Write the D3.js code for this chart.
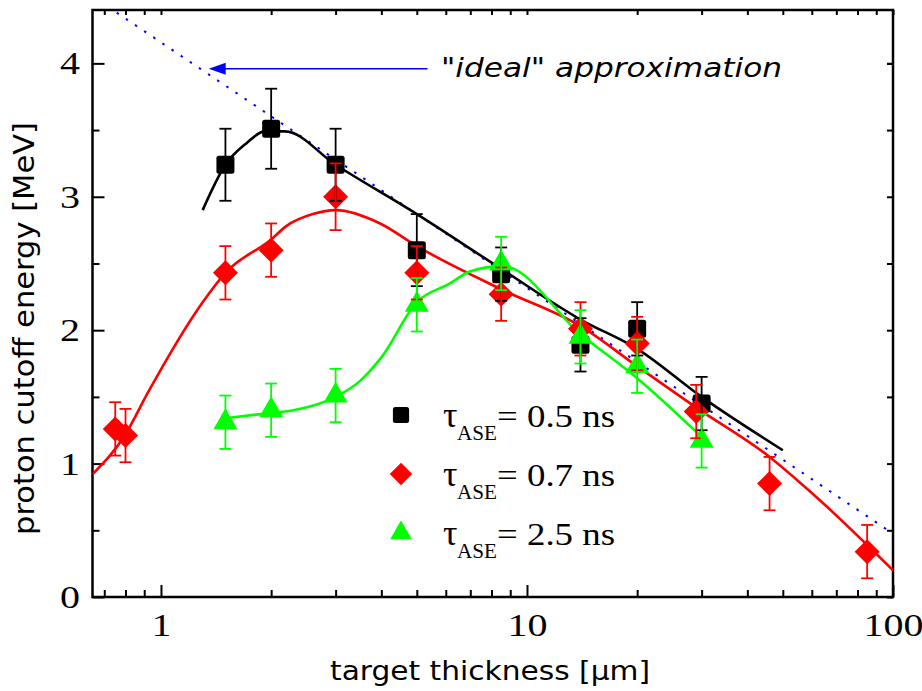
<!DOCTYPE html>
<html><head><meta charset="utf-8">
<script src="https://cdn.jsdelivr.net/npm/d3@7/dist/d3.min.js"></script>
<style>body{margin:0;background:#fff}</style>
</head><body>
<svg id="c" width="922" height="691"></svg>
<script>
// ---------- data ----------
const xTicksMajor = [1, 10, 100];
const xTicksMinor = [0.7, 0.8, 0.9, 2, 3, 4, 5, 6, 7, 8, 9, 20, 30, 40, 50, 60, 70, 80, 90];
const yTicksMajor = [0, 1, 2, 3, 4];
const yTicksMinor = [0.5, 1.5, 2.5, 3.5];

// tau_ASE = 0.5 ns (black squares)
const thick05 = [1.5, 2, 3, 5, 8.5, 14, 20, 30];
const energy05 = [3.24, 3.51, 3.24, 2.60, 2.42, 1.89, 2.01, 1.45];
const err05 = [0.27, 0.30, 0.27, 0.27, 0.20, 0.20, 0.20, 0.20];
const fitX05 = [1.3, 1.5, 1.71, 1.92, 2.18, 3, 5, 8.5, 14, 20, 30, 50];
const fitY05 = [2.90, 3.24, 3.40, 3.49, 3.49, 3.24, 2.87, 2.46, 2.08, 1.86, 1.50, 1.10];

// tau_ASE = 0.7 ns (red diamonds)
const thick07 = [0.75, 0.8, 1.5, 2, 3, 5, 8.5, 14, 20, 29, 46, 85];
const energy07 = [1.26, 1.21, 2.43, 2.60, 3.00, 2.43, 2.27, 2.01, 1.90, 1.39, 0.85, 0.34];
const err07 = [0.2, 0.2, 0.2, 0.2, 0.25, 0.2, 0.2, 0.2, 0.2, 0.2, 0.2, 0.2];
const fitX07 = [0.65, 0.8, 0.92, 1.3, 1.5, 2, 2.2, 2.6, 3, 3.97, 5, 8.6, 14, 20, 29, 46, 60, 100];
const fitY07 = [0.92, 1.22, 1.53, 2.21, 2.43, 2.68, 2.78, 2.87, 2.90, 2.80, 2.63, 2.30, 2.03, 1.73, 1.42, 1.05, 0.78, 0.20];

// tau_ASE = 2.5 ns (green triangles)
const thick25 = [1.5, 2, 3, 5, 8.5, 14, 20, 30];
const energy25 = [1.31, 1.40, 1.51, 2.19, 2.50, 1.95, 1.73, 1.17];
const err25 = [0.2, 0.2, 0.2, 0.2, 0.2, 0.2, 0.2, 0.2];
const fitX25 = [1.5, 2, 2.3, 3, 3.5, 4.01, 5, 6.16, 6.98, 8.6, 14, 20, 30];
const fitY25 = [1.34, 1.38, 1.40, 1.50, 1.62, 1.80, 2.21, 2.35, 2.44, 2.48, 1.97, 1.64, 1.20];

// "ideal" approximation line
const idealX = [0.757, 100];
const idealY = [4.38, 0.475];
const arrowX = [5.35, 1.35];
const arrowY = [3.96, 3.96];

const legendLabels = ["= 0.5 ns", "= 0.7 ns", "= 2.5 ns"];
const xLabel = "target thickness [\u00b5m]";
const yLabel = "proton cutoff energy [MeV]";
const annotation = "\"ideal\" approximation";

// ---------- layout ----------
const L = 92.5, R = 893, T = 10, B = 597;
const x = d3.scaleLog().domain([0.65, 100]).range([L, R]);
const y = d3.scaleLinear().domain([0, 4.4]).range([B, T]);
const svg = d3.select("#c");
const serif = "'Liberation Serif','Times New Roman',serif";
const sans = "'DejaVu Sans',Verdana,sans-serif";

svg.append("defs").append("clipPath").attr("id", "clip")
  .append("rect").attr("x", L).attr("y", T).attr("width", R - L).attr("height", B - T);

// ---------- axes ----------
function styleAxis(g) {
  g.select(".domain").remove();
  g.selectAll("line").attr("stroke", "#000").attr("stroke-width", 2);
}
// bottom
const gxb = svg.append("g").attr("transform", `translate(0,${B})`)
  .call(d3.axisBottom(x).tickValues(xTicksMajor).tickSize(-12).tickFormat(d3.format("d")));
styleAxis(gxb);
gxb.selectAll("text").attr("y", 39).attr("dy", null)
  .attr("font-family", serif).attr("font-size", 32).attr("fill", "#000")
  .attr("transform", "scale(1.25,1)");
const gxbm = svg.append("g").attr("transform", `translate(0,${B})`)
  .call(d3.axisBottom(x).tickValues(xTicksMinor).tickSize(-7).tickFormat(""));
styleAxis(gxbm);
// top
const gxt = svg.append("g").attr("transform", `translate(0,${T})`)
  .call(d3.axisTop(x).tickValues(xTicksMajor.concat(xTicksMinor)).tickSize(-5).tickFormat(""));
styleAxis(gxt);
// left
const gyl = svg.append("g").attr("transform", `translate(${L},0)`)
  .call(d3.axisLeft(y).tickValues(yTicksMajor).tickSize(-12).tickFormat(d3.format("d")));
styleAxis(gyl);
gyl.selectAll("text").attr("x", -10).attr("dy", "0.33em")
  .attr("font-family", serif).attr("font-size", 32).attr("fill", "#000")
  .attr("transform", "scale(1.25,1)");
const gylm = svg.append("g").attr("transform", `translate(${L},0)`)
  .call(d3.axisLeft(y).tickValues(yTicksMinor).tickSize(-7).tickFormat(""));
styleAxis(gylm);
// right
const gyr = svg.append("g").attr("transform", `translate(${R},0)`)
  .call(d3.axisRight(y).tickValues(yTicksMajor.concat(yTicksMinor, [4])).tickSize(-6).tickFormat(""));
styleAxis(gyr);

// frame
svg.append("rect").attr("x", L).attr("y", T).attr("width", R - L).attr("height", B - T)
  .attr("fill", "none").attr("stroke", "#000").attr("stroke-width", 2.5);

// ---------- lines ----------
const plot = svg.append("g").attr("clip-path", "url(#clip)");
const line = d3.line().x(d => x(d[0])).y(d => y(d[1]));
const curve = d3.line().x(d => x(d[0])).y(d => y(d[1])).curve(d3.curveMonotoneX);

plot.append("path").datum(d3.zip(idealX, idealY)).attr("d", line)
  .attr("fill", "none").attr("stroke", "#0000ff").attr("stroke-width", 2)
  .attr("stroke-dasharray", "2.5,8.5");

const series = [
  {xs: thick05, ys: energy05, es: err05, fx: fitX05, fy: fitY05, color: "#000000", sym: "square"},
  {xs: thick07, ys: energy07, es: err07, fx: fitX07, fy: fitY07, color: "#ff0000", sym: "diamond"},
  {xs: thick25, ys: energy25, es: err25, fx: fitX25, fy: fitY25, color: "#00ff00", sym: "triangle"}
];

series.forEach(s => {
  plot.append("path").datum(d3.zip(s.fx, s.fy)).attr("d", curve)
    .attr("fill", "none").attr("stroke", s.color).attr("stroke-width", 2.6)
    .attr("stroke-linejoin", "round");
});

function drawMarker(g, sym, color, cx, cy, scale) {
  if (sym === "square") {
    const a = 18 * scale;
    g.append("rect").attr("x", cx - a / 2).attr("y", cy - a / 2).attr("width", a).attr("height", a)
      .attr("rx", 2.5).attr("fill", color);
  } else if (sym === "diamond") {
    g.append("path").attr("d", d3.symbol(d3.symbolSquare, 313 * scale * scale)())
      .attr("transform", `translate(${cx},${cy}) rotate(45)`).attr("fill", color);
  } else {
    g.append("path").attr("d", d3.symbol(d3.symbolTriangle, 250 * scale * scale)())
      .attr("transform", `translate(${cx},${cy})`).attr("fill", color);
  }
}

// markers
series.forEach(s => {
  const g = svg.append("g");
  s.xs.forEach((xv, i) => drawMarker(g, s.sym, s.color, x(xv), y(s.ys[i]), 1));
});
// error bars
series.forEach(s => {
  const g = svg.append("g").attr("stroke", s.color).attr("stroke-width", 1.8);
  s.xs.forEach((xv, i) => {
    const cx = x(xv), y1 = y(s.ys[i] + s.es[i]), y0 = y(s.ys[i] - s.es[i]);
    g.append("line").attr("x1", cx).attr("x2", cx).attr("y1", y1).attr("y2", y0);
    g.append("line").attr("x1", cx - 6).attr("x2", cx + 6).attr("y1", y1).attr("y2", y1);
    g.append("line").attr("x1", cx - 6).attr("x2", cx + 6).attr("y1", y0).attr("y2", y0);
  });
});

// ---------- annotation ----------
const ax0 = x(arrowX[0]), ax1 = x(arrowX[1]), ay = y(arrowY[0]);
svg.append("line").attr("x1", ax0).attr("x2", ax1 + 12).attr("y1", ay).attr("y2", ay)
  .attr("stroke", "#0000ff").attr("stroke-width", 1.6);
svg.append("path").attr("d", `M${ax1},${ay} L${ax1 + 17},${ay - 6} L${ax1 + 17},${ay + 6} Z`)
  .attr("fill", "#0000ff");
svg.append("text").attr("x", 441).attr("y", 77).text(annotation)
  .attr("font-family", sans).attr("font-style", "italic").attr("font-size", 27)
  .attr("textLength", 341).attr("lengthAdjust", "spacingAndGlyphs").attr("fill", "#000");

// ---------- legend ----------
const legBase = [427, 486, 545];
series.forEach((s, i) => {
  const g = svg.append("g");
  const by = legBase[i];
  drawMarker(g, s.sym, s.color, 401, by - 12, s.sym === "square" ? 0.9 : 0.9);
  g.append("text").attr("x", 443).attr("y", by).text("\u03c4")
    .attr("font-family", serif).attr("font-size", 36).attr("fill", "#000");
  g.append("text").attr("x", 457).attr("y", by + 13).text("ASE")
    .attr("font-family", serif).attr("font-size", 20).attr("fill", "#000")
    .attr("textLength", 40).attr("lengthAdjust", "spacingAndGlyphs");
  g.append("text").attr("x", 497).attr("y", by).text(legendLabels[i])
    .attr("font-family", serif).attr("font-size", 32).attr("fill", "#000")
    .attr("textLength", 118).attr("lengthAdjust", "spacingAndGlyphs");
});

// ---------- axis labels ----------
svg.append("text").attr("x", 490).attr("y", 680).attr("text-anchor", "middle").text(xLabel)
  .attr("font-family", sans).attr("font-size", 26).attr("fill", "#000")
  .attr("textLength", 320).attr("lengthAdjust", "spacingAndGlyphs");
svg.append("text").attr("transform", "translate(34,328.5) rotate(-90)").attr("text-anchor", "middle")
  .text(yLabel).attr("font-family", sans).attr("font-size", 28).attr("fill", "#000")
  .attr("textLength", 413).attr("lengthAdjust", "spacingAndGlyphs");
</script>
</body></html>
